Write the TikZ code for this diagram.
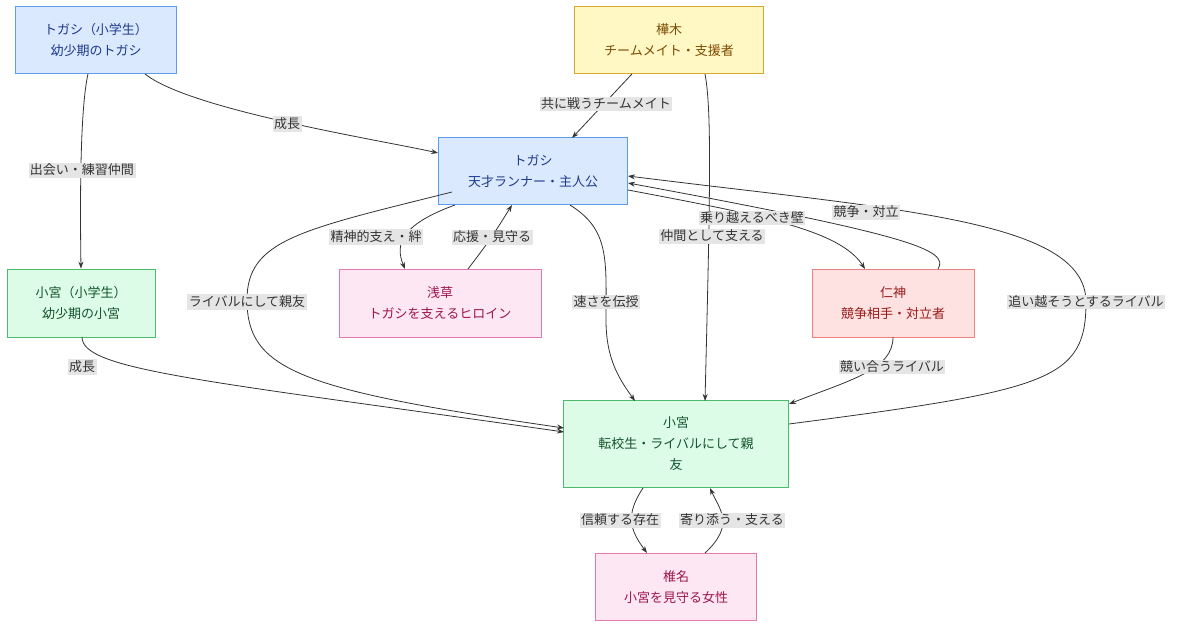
\documentclass[tikz,border=0pt]{standalone}
\usepackage{fontspec}
\setmainfont{Noto Sans CJK JP}
\usetikzlibrary{arrows.meta}
\definecolor{bF}{HTML}{DBE9FE}\definecolor{bS}{HTML}{5B9BF0}\definecolor{bT}{HTML}{1E3A8A}
\definecolor{yF}{HTML}{FFF8C4}\definecolor{yS}{HTML}{D4A82A}\definecolor{yT}{HTML}{7C4A03}
\definecolor{gF}{HTML}{DCFCE7}\definecolor{gS}{HTML}{4CBB6C}\definecolor{gT}{HTML}{14532D}
\definecolor{pF}{HTML}{FCE7F3}\definecolor{pS}{HTML}{E879B0}\definecolor{pT}{HTML}{9D174D}
\definecolor{rF}{HTML}{FEE2E2}\definecolor{rS}{HTML}{F08080}\definecolor{rT}{HTML}{991B1B}
\definecolor{lnk}{HTML}{333333}
\begin{document}
\begin{tikzpicture}[x=1pt,y=-1pt,
 box/.style={draw,line width=0.8pt,align=center,font=\fontsize{13}{21}\selectfont,inner sep=0pt},
 blue/.style={box,fill=bF,draw=bS,text=bT},
 yel/.style={box,fill=yF,draw=yS,text=yT},
 grn/.style={box,fill=gF,draw=gS,text=gT},
 pnk/.style={box,fill=pF,draw=pS,text=pT},
 red/.style={box,fill=rF,draw=rS,text=rT},
 e/.style={draw=lnk,line width=0.8pt,-{Stealth[length=7pt,width=5pt]}},
 lb/.style={fill=black!10,text=black!80,font=\fontsize{13}{15}\selectfont,inner sep=1.5pt}]
\useasboundingbox (0,0) rectangle (1184,632);
\node[blue,minimum width=161,minimum height=67] (tgS) at (96,40) {トガシ（小学生）\\幼少期のトガシ};
\node[yel,minimum width=189,minimum height=67] (kb) at (669,40) {樺木\\チームメイト・支援者};
\node[blue,minimum width=189,minimum height=67] (tg) at (533,171) {トガシ\\天才ランナー・主人公};
\node[grn,minimum width=148,minimum height=68] (kmS) at (81,303) {小宮（小学生）\\幼少期の小宮};
\node[pnk,minimum width=202,minimum height=68] (as) at (440,303) {浅草\\トガシを支えるヒロイン};
\node[red,minimum width=162,minimum height=68] (jin) at (893,303) {仁神\\競争相手・対立者};
\node[grn,minimum width=225,minimum height=87] (km) at (676,444) {小宮\\転校生・ライバルにして親\\友};
\node[pnk,minimum width=161,minimum height=67] (sh) at (676,587) {椎名\\小宮を見守る女性};

\path[e] (tgS.south east)++(-32,0) .. controls (190,110) and (380,140) .. (tg.west|-0,153);
\path[e] (tgS.south)++(-8,0) .. controls (80,110) and (80,200) .. (kmS.north);
\path[e] (kb.south)++(-37,0) -- (572,138);
\path[e] (705,74) .. controls (712,110) and (710,200) .. (705,401);
\path[e] (455,205) .. controls (400,225) and (395,245) .. (405,269);
\path[e] (468,269) .. controls (490,240) .. (512,205);
\path[e] (452,192) .. controls (300,230) and (247,240) .. (247,300) .. controls (247,370) and (300,390) .. (564,428);
\path[e] (570,205) .. controls (610,230) and (606,260) .. (606,320) .. controls (606,360) and (620,380) .. (635,401);
\path[e] (628,190) .. controls (760,215) and (840,230) .. (865,269);
\path[e] (938,269) .. controls (950,250) and (910,235) .. (628,183);
\path[e] (789,424) .. controls (1050,390) and (1086,380) .. (1086,302) .. controls (1086,220) and (900,210) .. (628,176);
\path[e] (82,337) .. controls (82,370) and (200,380) .. (564,432);
\path[e] (893,337) .. controls (893,370) and (850,380) .. (789,404);
\path[e] (643,488) .. controls (625,515) and (630,530) .. (647,553);
\path[e] (705,553) .. controls (735,525) and (720,510) .. (710,488);

\node[lb] (l1) at (287,124) {成長};
\node[lb] (l2) at (82,170) {出会い・練習仲間};
\node[lb] (l3) at (606,104) {共に戦うチームメイト};
\node[lb] (l4) at (712,236) {仲間として支える};
\node[lb] (l5) at (376,237) {精神的支え・絆};
\node[lb] (l6) at (492,237) {応援・見守る};
\node[lb] (l7) at (247,302) {ライバルにして親友};
\node[lb] (l8) at (606,302) {速さを伝授};
\node[lb] (l10) at (866,212) {競争・対立};
\node[lb] (l9) at (752,218) {乗り越えるべき壁};
\node[lb] (l11) at (1086,302) {追い越そうとするライバル};
\node[lb] (l12) at (82,367) {成長};
\node[lb] (l13) at (892,367) {競い合うライバル};
\node[lb] (l14) at (620,520) {信頼する存在};
\node[lb] (l15) at (732,520) {寄り添う・支える};
\end{tikzpicture}
\end{document}
